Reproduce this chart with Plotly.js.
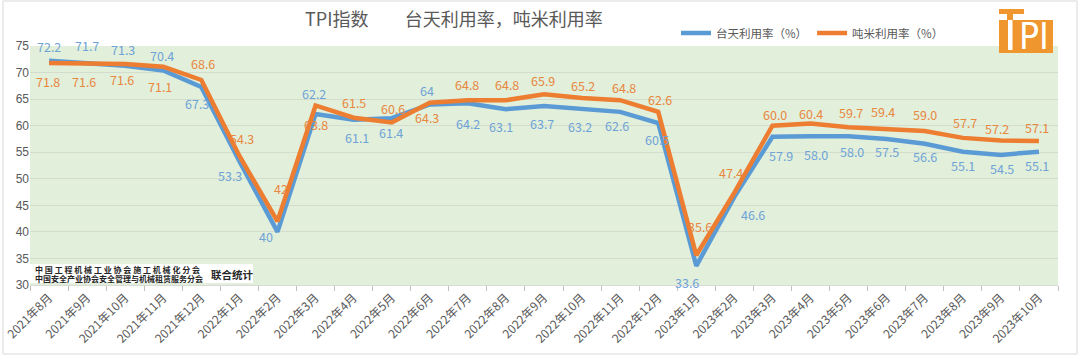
<!DOCTYPE html>
<html>
<head>
<meta charset="utf-8">
<script src="https://cdn.plot.ly/plotly-3.0.1.min.js"></script>
<style>
  html, body { margin: 0; padding: 0; background: #ffffff; }
  #chart { width: 1080px; height: 356px; }
</style>
</head>
<body>
<div id="chart"></div>
<script>
// ---------------- data ----------------
const months = [
  "2021年8月","2021年9月","2021年10月","2021年11月","2021年12月",
  "2022年1月","2022年2月","2022年3月","2022年4月","2022年5月","2022年6月",
  "2022年7月","2022年8月","2022年9月","2022年10月","2022年11月","2022年12月",
  "2023年1月","2023年2月","2023年3月","2023年4月","2023年5月","2023年6月",
  "2023年7月","2023年8月","2023年9月","2023年10月"
];
const taitianRate = [72.2, 71.7, 71.3, 70.4, 67.3, 53.3, 40, 62.2, 61.1, 61.4, 64,
  64.2, 63.1, 63.7, 63.2, 62.6, 60.5, 33.6, 46.6, 57.9, 58.0, 58.0, 57.5, 56.6, 55.1, 54.5, 55.1];
const dunmiRate = [71.8, 71.6, 71.6, 71.1, 68.6, 54.3, 42, 63.8, 61.5, 60.6, 64.3,
  64.8, 64.8, 65.9, 65.2, 64.8, 62.6, 35.6, 47.4, 60.0, 60.4, 59.7, 59.4, 59.0, 57.7, 57.2, 57.1];
const seriesNames = ["台天利用率（%）", "吨米利用率（%）"];
const yTicks = [30, 35, 40, 45, 50, 55, 60, 65, 70, 75];

// ---------------- label placement (pixel offsets from each point) ----------------
const blueDx = [0,0,-2,-1,-4,-9,-11,-2,3,-1,-3,0,-5,-2,-2,-3,-1,-9,19,9,5,3,0,0,0,1,-2];
const blueDy = [-14,-18,-16,-15,17,14,5,-20,18,14,-14,20,17,17,18,14,16,17,18,19,18,15,13,13,14,14,14];
const orangeDx = [-1,-3,-3,-3,2,3,4,0,0,1,-3,-1,1,-1,1,4,2,4,-3,3,0,2,-4,0,2,-4,-2];
const orangeDy = [18,17,15,20,-16,-17,-33,19,-15,-14,15,-16,-16,-14,-13,-13,-12,-29,-20,-11,-10,-15,-17,-16,-15,-12,-14];

// ---------------- styles ----------------
const BLUE = "#5B9BD5";
const ORANGE = "#ED7D31";
const GREY_TXT = "#595959";
const CJK = "'Noto Sans CJK SC', 'Noto Sans', sans-serif";

const W = 1080, H = 356;
const M = {l: 30, r: 22, t: 46, b: 71};
const PW = W - M.l - M.r, PH = H - M.t - M.b;
const px = v => (v - M.l) / PW;        // page x -> paper x
const py = v => (H - M.b - v) / PH;    // page y -> paper y

function fmt(v, i) { return i >= 19 ? v.toFixed(1) : String(v); }

const traces = [
  {x: months, y: taitianRate, name: seriesNames[0], type: "scatter", mode: "lines",
   line: {color: BLUE, width: 4.5}, hoverinfo: "skip"},
  {x: months, y: dunmiRate, name: seriesNames[1], type: "scatter", mode: "lines",
   line: {color: ORANGE, width: 4.5}, hoverinfo: "skip"}
];

const annotations = [];
months.forEach((m, i) => {
  annotations.push({x: m, y: taitianRate[i], xref: "x", yref: "y", text: fmt(taitianRate[i], i),
    showarrow: false, xshift: blueDx[i], yshift: -blueDy[i],
    font: {family: CJK, size: 12.5, color: "#6FA3D8"}});
  annotations.push({x: m, y: dunmiRate[i], xref: "x", yref: "y", text: fmt(dunmiRate[i], i),
    showarrow: false, xshift: orangeDx[i], yshift: -orangeDy[i],
    font: {family: CJK, size: 12.5, color: "#E8873F"}});
});

// source note (bottom-left)
annotations.push({xref: "paper", yref: "paper", x: px(33), y: py(269), xanchor: "left", yanchor: "middle",
  text: "<b>" + "中国工程机械工业协会施工机械化分会".split("").join(" ") + "</b>", showarrow: false,
  font: {family: CJK, size: 8, color: "#262626"}});
annotations.push({xref: "paper", yref: "paper", x: px(33), y: py(278), xanchor: "left", yanchor: "middle",
  text: "<b>中国安全产业协会安全管理与机械租赁服务分会</b>", showarrow: false,
  font: {family: CJK, size: 8, color: "#262626"}});
annotations.push({xref: "paper", yref: "paper", x: px(209), y: py(274), xanchor: "left", yanchor: "middle",
  text: "<b>联合统计</b>", showarrow: false,
  font: {family: CJK, size: 10.5, color: "#262626"}});
// logo letters
annotations.push({xref: "paper", yref: "paper", x: px(1034), y: py(37), xanchor: "center", yanchor: "middle",
  text: "PI", showarrow: false,
  font: {family: "'Liberation Sans Narrow', 'DejaVu Sans Condensed', sans-serif", size: 37, color: "#ffffff"}});

const shapes = [
  // outer border
  {type: "rect", xref: "paper", yref: "paper", x0: px(3), x1: px(1077), y0: py(354), y1: py(1),
   line: {color: "#d9d9d9", width: 1}, fillcolor: "rgba(0,0,0,0)", layer: "below"},
  // source box
  {type: "rect", xref: "paper", yref: "paper", x0: px(30), x1: px(253), y0: py(283), y1: py(264),
   line: {width: 0}, fillcolor: "#ffffff", layer: "above"},
  // logo
  {type: "rect", xref: "paper", yref: "paper", x0: px(999), x1: px(1024), y0: py(14), y1: py(9),
   line: {width: 0}, fillcolor: "#F0962E", layer: "above"},
  {type: "rect", xref: "paper", yref: "paper", x0: px(1007), x1: px(1013), y0: py(20), y1: py(14),
   line: {width: 0}, fillcolor: "#F0962E", layer: "above"},
  {type: "rect", xref: "paper", yref: "paper", x0: px(999), x1: px(1053), y0: py(53), y1: py(20),
   line: {width: 0}, fillcolor: "#F0962E", layer: "above"},
  {type: "rect", xref: "paper", yref: "paper", x0: px(1008), x1: px(1012.5), y0: py(50), y1: py(20),
   line: {width: 0}, fillcolor: "#ffffff", layer: "above"}
];

const layout = {
  width: W, height: H,
  margin: M,
  paper_bgcolor: "#ffffff",
  plot_bgcolor: "#E2EFDA",
  font: {family: CJK, color: GREY_TXT},
  title: {
    text: "TPI指数" + "\u00a0".repeat(9) + "台天利用率，吨米利用率",
    font: {family: CJK, size: 18, color: GREY_TXT},
    xref: "paper", x: px(305), xanchor: "left",
    yref: "container", y: 1 - 20 / H, yanchor: "middle"
  },
  showlegend: true,
  legend: {
    orientation: "h", x: px(676), xanchor: "left", y: py(33), yanchor: "middle",
    bgcolor: "rgba(0,0,0,0)", font: {family: CJK, size: 11.5, color: GREY_TXT},
    itemwidth: 30, traceorder: "normal"
  },
  xaxis: {
    type: "category", tickson: "boundaries", ticks: "outside", ticklen: 5, tickcolor: "#bfbfbf",
    tickangle: -45, tickfont: {family: CJK, size: 12, color: GREY_TXT},
    showgrid: false, showline: true, linecolor: "#d9d9d9", linewidth: 1,
    range: [-0.5, months.length - 0.5], fixedrange: true
  },
  yaxis: {
    range: [30, 75], tickvals: yTicks, ticktext: yTicks.map(String),
    showgrid: true, gridcolor: "#d4dccd", gridwidth: 1, zeroline: false,
    showline: false, ticks: "", tickfont: {family: "'Liberation Sans', Arial, sans-serif", size: 12, color: GREY_TXT},
    fixedrange: true
  },
  annotations: annotations,
  shapes: shapes
};

Plotly.newPlot("chart", traces, layout, {displayModeBar: false, staticPlot: true});
</script>
</body>
</html>
